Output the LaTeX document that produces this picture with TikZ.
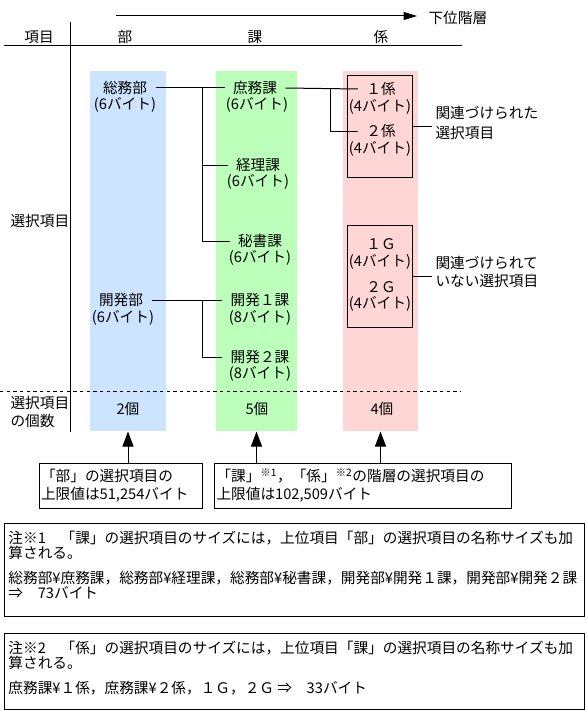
\documentclass[tikz,border=0pt]{standalone}
\usepackage{fontspec}
\setmainfont{Noto Sans CJK JP}
\usetikzlibrary{arrows.meta}
\def\pxu{0.75pt}
\definecolor{colblue}{RGB}{204,228,255}
\definecolor{colgreen}{RGB}{187,255,187}
\definecolor{colpink}{RGB}{255,214,214}
\begin{document}
\begin{tikzpicture}[x=0.75pt,y=-0.75pt,
  font=\fontsize{11}{13.5}\selectfont, line width=0.75pt,
  colbox/.style={inner sep=0pt, minimum height=360*\pxu},
  nm/.style={inner xsep=8*\pxu, inner ysep=0pt},
  sz/.style={inner sep=0pt},
  grp/.style={draw, inner sep=0pt, minimum width=65*\pxu},
  lab/.style={anchor=west, align=left, inner xsep=3*\pxu, inner ysep=0pt},
  callout/.style={draw, align=left, inner xsep=2*\pxu, inner ysep=0pt, minimum height=45*\pxu},
  notebox/.style={draw, inner sep=0pt, minimum width=580*\pxu},
  notetext/.style={anchor=north west, align=left, inner sep=0pt, font=\fontsize{11}{11.25}\selectfont},
  uparrow/.style={-{Triangle[length=11.25pt,width=8.25pt]}}
]
\useasboundingbox (0,0) rectangle (586,710);

% colored columns
\node[colbox, fill=colblue, minimum width=76*\pxu] (colB) at (128,251) {};
\node[colbox, fill=colgreen, minimum width=81*\pxu] (colK) at (256.5,251) {};
\node[colbox, fill=colpink, minimum width=75*\pxu] (colG) at (380.5,251) {};

% top arrow
\node[anchor=west, inner sep=0pt] (lower) at (428,18) {下位階層};
\coordinate (arS) at (116,16);
\draw[-{Triangle[length=10pt,width=6pt]}] (arS) -- ([xshift=-11*\pxu]lower.west |- arS);

% header
\node[sz] (hItem) at (39,37) {項目};
\node[sz] (hBu) at (125,37) {部};
\node[sz] (hKa) at (255,37) {課};
\node[sz] (hKakari) at (381,37) {係};
\coordinate (hrL) at (4,46);
\coordinate (hrR) at (462,46);
\draw (hrL) -- (hrR);
\coordinate (vT) at (70,22);
\coordinate (vB) at (70,432);
\draw (vT) -- (vB);
\coordinate (dL) at (0,391);
\coordinate (dR) at (461,391);
\draw[dash pattern=on 2.5pt off 2.5pt] (dL) -- (dR);

% left labels
\node[anchor=west, inner sep=0pt] (lSel) at (10,221) {選択項目};
\node[anchor=west, align=left, inner sep=0pt] (lCnt) at (10,412) {選択項目\\の個数};

% 部
\node[nm] (somu) at (125,88) {総務部};
\node[sz] (somuS) at (125,105) {(6バイト)};
\node[nm] (kaib) at (121,300) {開発部};
\node[sz] (kaibS) at (123,318) {(6バイト)};

% 課
\node[nm] (shomu) at (255,88) {庶務課};
\node[sz] (shomuS) at (257,105) {(6バイト)};
\node[nm] (keiri) at (258,165) {経理課};
\node[sz] (keiriS) at (258,182) {(6バイト)};
\node[nm] (hisho) at (260,241) {秘書課};
\node[sz] (hishoS) at (260,258) {(6バイト)};
\node[nm] (kai1) at (260,300) {開発１課};
\node[sz] (kai1S) at (260,318) {(8バイト)};
\node[nm] (kai2) at (260,357) {開発２課};
\node[sz] (kai2S) at (260,374) {(8バイト)};

% 係
\node[grp, minimum height=101*\pxu] (bx1) at (379.5,126.5) {};
\node[grp, minimum height=102*\pxu] (bx2) at (379.5,276) {};
\node[nm] (k1) at (381,89) {１係};
\node[sz] (k1S) at (380,107) {(4バイト)};
\node[nm] (k2) at (381,131) {２係};
\node[sz] (k2S) at (380,149) {(4バイト)};
\node[nm] (g1) at (381,244) {１Ｇ};
\node[sz] (g1S) at (380,262) {(4バイト)};
\node[nm] (g2) at (381,287) {２Ｇ};
\node[sz] (g2S) at (380,304) {(4バイト)};

% side labels
\node[lab] (lab1) at (432,123) {関連づけられた\\[1.5pt]選択項目};
\node[lab] (lab2) at (432,271.5) {関連づけられて\\いない選択項目};
\draw (bx1.east) -- (lab1.west |- bx1.east);
\draw (bx2.east) -- (lab2.west |- bx2.east);

% connectors
\coordinate (j1) at (202,88);
\coordinate (j2) at (202,300);
\coordinate (j3) at (330,88);
\draw (somu.east) -- (shomu.west);
\draw (j1) |- (keiri.west);
\draw (j1) |- (hisho.west);
\draw (kaib.east) -- (kai1.west);
\draw (j2) |- (kai2.west);
\draw (shomu.east) -- (k1.west);
\draw (j3) |- (k2.west);

% counts
\node[sz] (cB) at (128,409) {2個};
\node[sz] (cK) at (257,409) {5個};
\node[sz] (cG) at (382,409) {4個};

% callouts
\node[callout, text width=159*\pxu] (cb1) at (120.5,485.5) {「部」の選択項目の\\上限値は51,254バイト};
\node[callout, text width=292.5*\pxu] (cb2) at (362.75,485.5) {「課」\textsuperscript{※1}，「係」\textsuperscript{※2}の階層の選択項目の\\上限値は102,509バイト};
\draw[uparrow] (cb1.north -| colB.south) -- (colB.south);
\draw[uparrow] (cb2.north -| colK.south) -- (colK.south);
\draw[uparrow] (cb2.north -| colG.south) -- (colG.south);

% notes
\node[notebox, minimum height=93*\pxu] (nb1) at (294,569.5) {};
\node[notetext] (nt1) at (8,531) {注※1　「課」の選択項目のサイズには，上位項目「部」の選択項目の名称サイズも加\\算される。\\[7pt]総務部¥庶務課，総務部¥経理課，総務部¥秘書課，開発部¥開発１課，開発部¥開発２課\\⇒　73バイト};
\node[notebox, minimum height=76*\pxu] (nb2) at (294,671) {};
\node[notetext] (nt2) at (8,641) {注※2　「係」の選択項目のサイズには，上位項目「課」の選択項目の名称サイズも加\\算される。\\[7pt]庶務課¥１係，庶務課¥２係，１Ｇ，２Ｇ ⇒　33バイト};
\end{tikzpicture}
\end{document}
